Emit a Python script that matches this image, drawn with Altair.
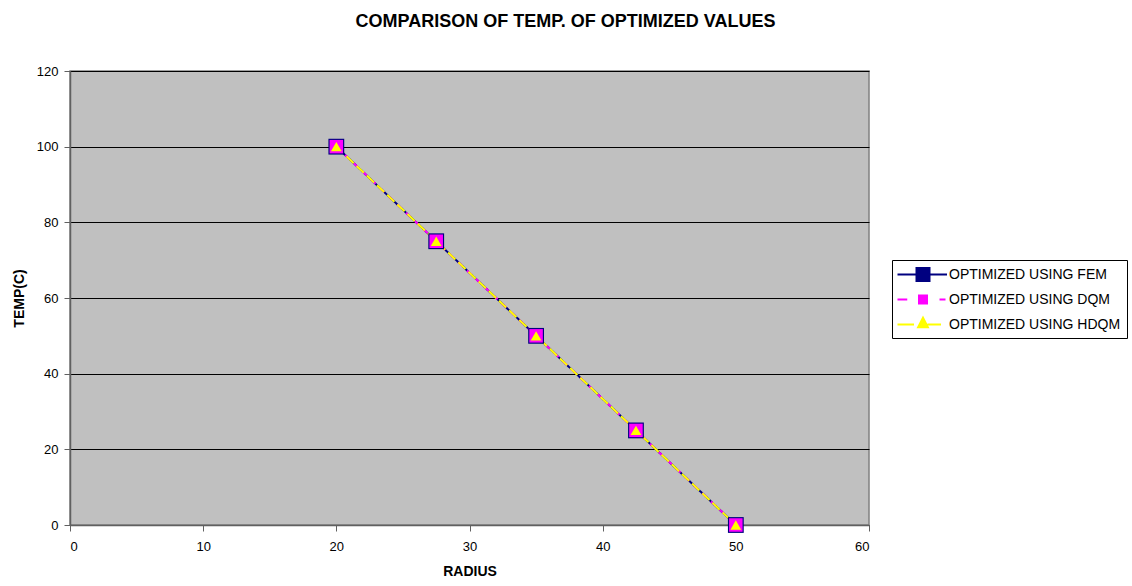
import altair as alt
import pandas as pd

radius = [20, 27.5, 35, 42.5, 50]
temp_fem = [100, 75, 50, 25, 0]
temp_dqm = [100, 75, 50, 25, 0]
temp_hdqm = [100, 75, 50, 25, 0]

series = ["OPTIMIZED USING FEM", "OPTIMIZED USING DQM", "OPTIMIZED USING HDQM"]
codes = ["FEM", "DQM", "HDQM"]
colors = ["#000080", "#FF00FF", "#FFFF00"]
shapes = ["square", "square", "triangle-up"]
sizes = [250, 115, 55]
dashes = [[1, 0], [6, 6], [10, 4]]

rows = []
for name, code, vals in zip(series, codes, [temp_fem, temp_dqm, temp_hdqm]):
    for r, t in zip(radius, vals):
        rows.append({"radius": r, "temp": t, "series": name, "method": code})
df = pd.DataFrame(rows)

font = "Liberation Sans"

# legend glyphs: line + marker, drawn as custom SVG symbol paths
fem_path = "M-1.2,0H5.4M1.333,-0.867H3.067V0.867H1.333Z"
dqm_path = "M-1.2,0H0.1M4.4,0H5.2M1.667,-0.533H2.733V0.533H1.667Z"
hdqm_path = "M-1.2,0H1.0M2.8,0H4.6M2.2,-0.9L2.85,0.35H1.55Z"
shape_expr = ("datum.value == '" + series[0] + "' ? '" + fem_path + "' : datum.value == '"
              + series[1] + "' ? '" + dqm_path + "' : '" + hdqm_path + "'")

x = alt.X("radius:Q", title="RADIUS",
          scale=alt.Scale(domain=[0, 60], nice=False),
          axis=alt.Axis(values=[0, 10, 20, 30, 40, 50, 60], grid=False))
y = alt.Y("temp:Q", title="TEMP(C)",
          scale=alt.Scale(domain=[0, 120], nice=False),
          axis=alt.Axis(values=[0, 20, 40, 60, 80, 100, 120], grid=True))

color = alt.Color("series:N", scale=alt.Scale(domain=series, range=colors),
                  legend=alt.Legend(title=None, orient="none", legendX=822, legendY=189,
                                    strokeColor="black", fillColor="white", padding=6,
                                    labelFont=font, labelFontSize=14, labelColor="black",
                                    labelLimit=300,
                                    rowPadding=5, symbolStrokeWidth=2, labelOffset=34,
                                    symbolSize=225, symbolOpacity=1,
                                    symbolType=alt.ExprRef(shape_expr)))
shape = alt.Shape("method:N", scale=alt.Scale(domain=codes, range=shapes), legend=None)
size = alt.Size("method:N", scale=alt.Scale(domain=codes, range=sizes), legend=None)
dash = alt.StrokeDash("method:N", scale=alt.Scale(domain=codes, range=dashes), legend=None)

base = alt.Chart(df).encode(x=x, y=y)
lines = base.mark_line(strokeWidth=2).encode(color=color, strokeDash=dash)
points = base.mark_point(filled=True, opacity=1).encode(color=color, shape=shape, size=size)

chart = alt.layer(lines, points).properties(
    width=799, height=454,
    autosize=alt.AutoSizeParams(type="none"),
    padding={"left": 70, "top": 71, "right": 263, "bottom": 61},
    title=alt.TitleParams("COMPARISON OF TEMP. OF OPTIMIZED VALUES", font=font,
                          fontSize=18, fontWeight="bold", color="black",
                          anchor="middle", dx=96, offset=34),
).configure_view(
    fill="#C0C0C0", stroke="#808080", strokeWidth=1.5
).configure_axis(
    labelFont=font, labelFontSize=13, labelColor="black",
    titleFont=font, titleFontSize=14, titleFontWeight="bold", titleColor="black",
    domainColor="#606060", tickColor="#606060", tickSize=6, domainWidth=1.5,
    gridColor="black", gridOpacity=1, gridWidth=1
).configure_axisX(titlePadding=11, labelPadding=9).configure_axisY(titlePadding=10, labelPadding=6)

chart.save("out.html", embed_options={"renderer": "svg", "actions": False})
